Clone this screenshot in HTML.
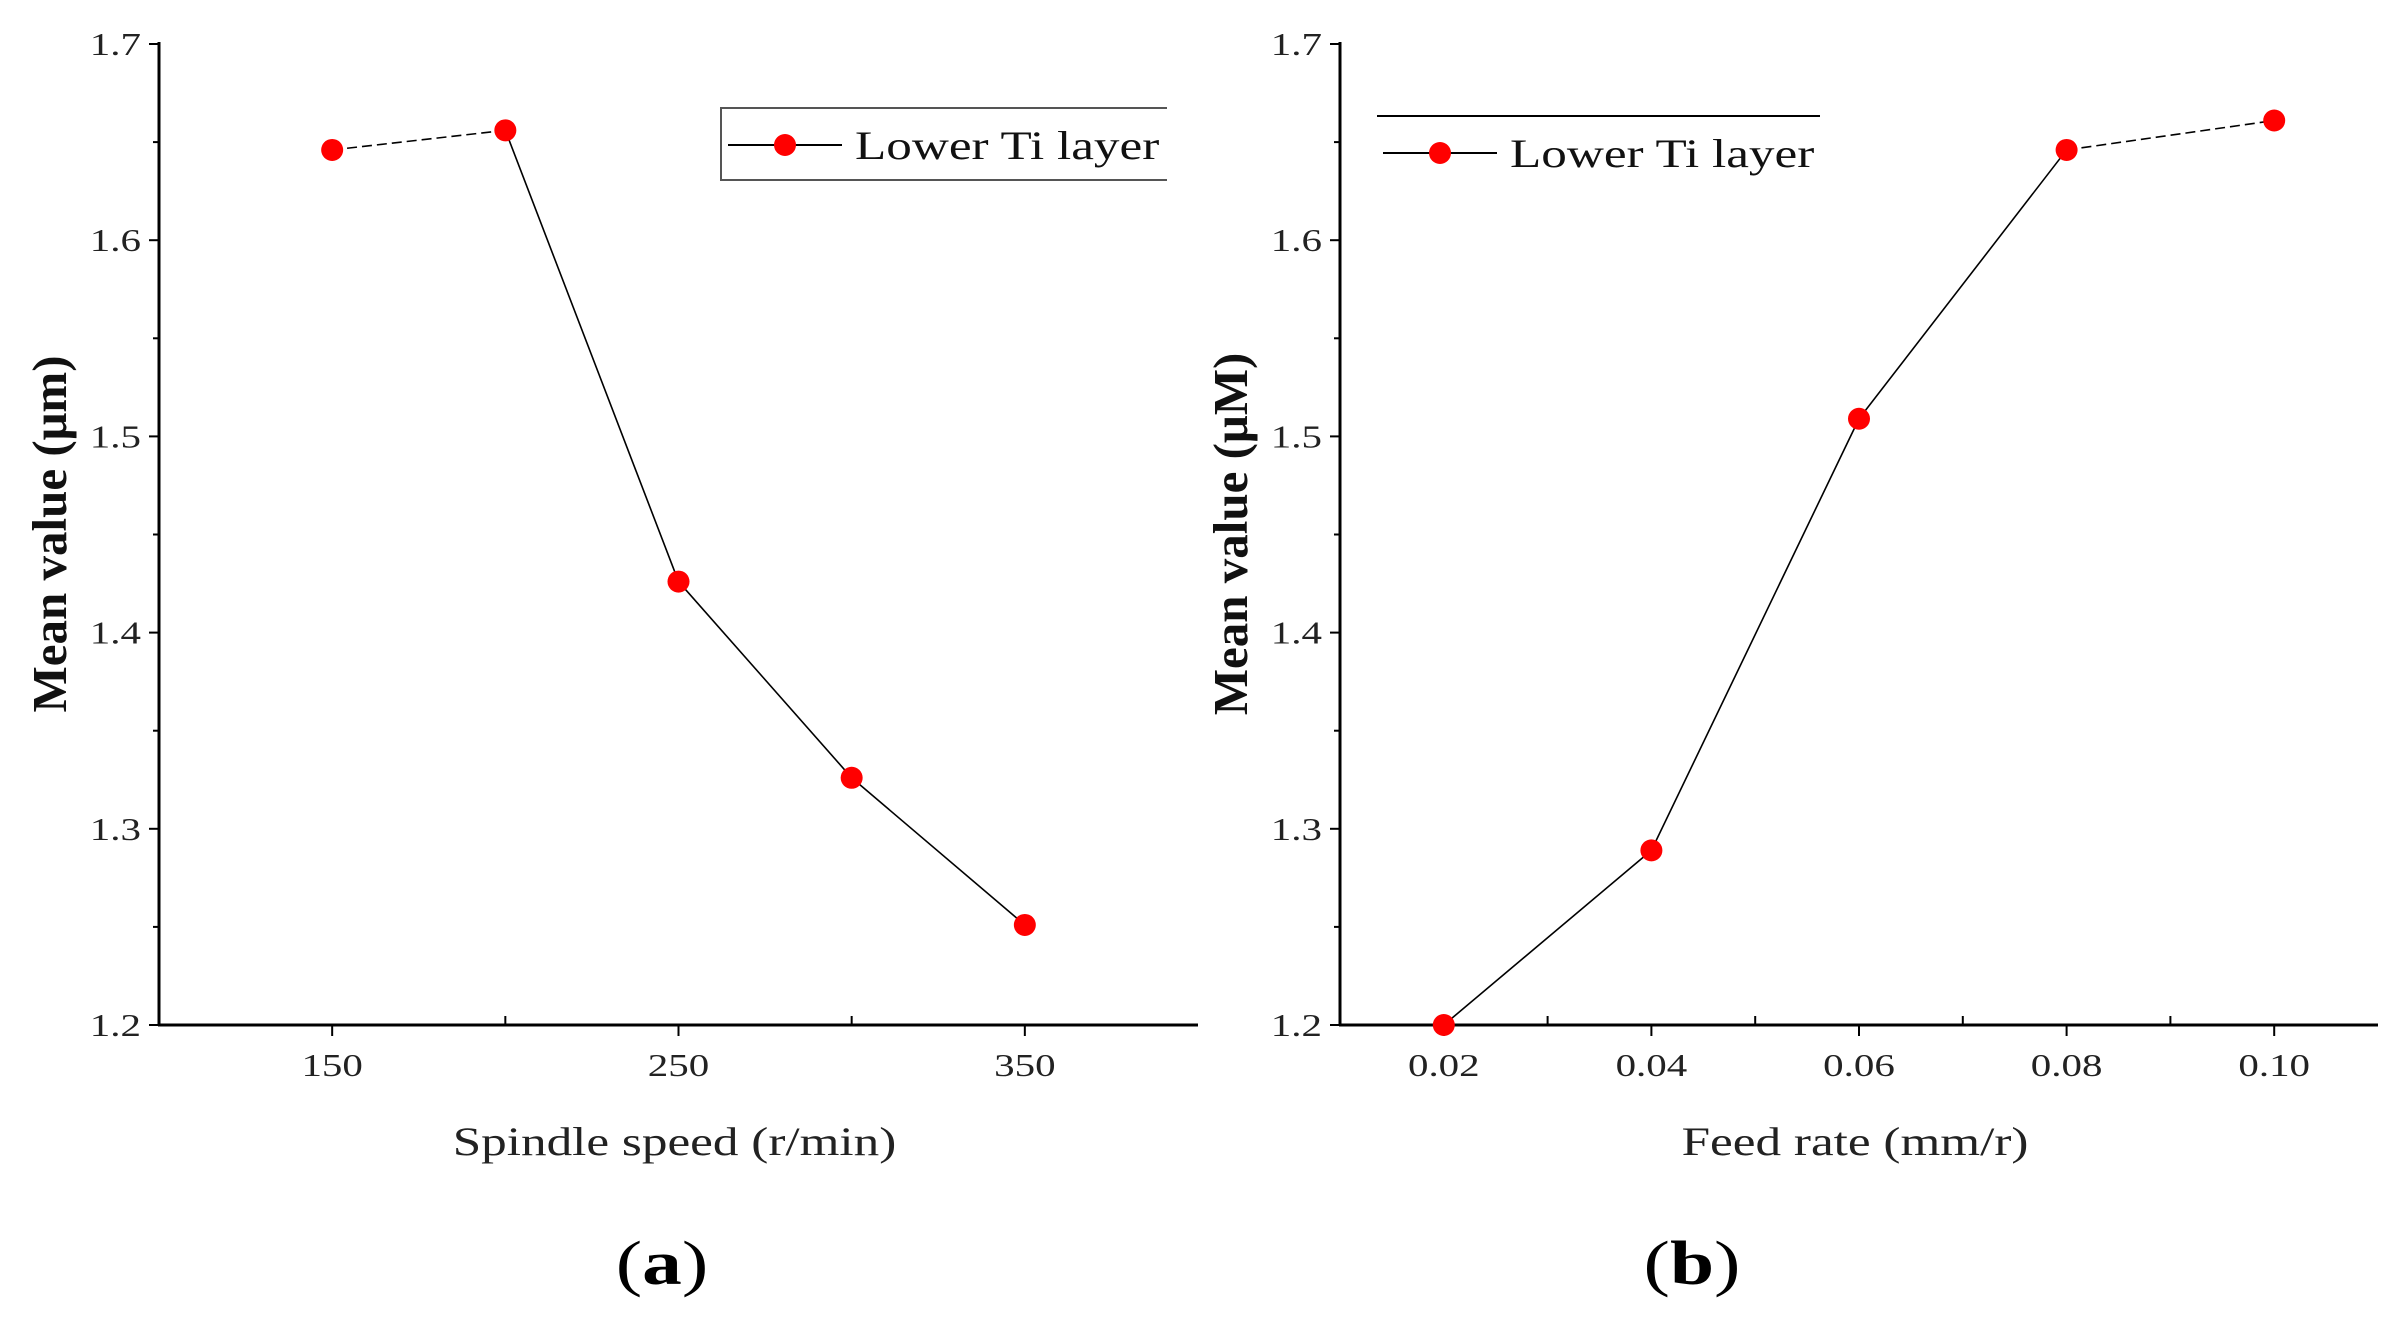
<!DOCTYPE html>
<html><head><meta charset="utf-8"><style>
html,body{margin:0;padding:0;background:#fff;}
svg{display:block;font-family:"Liberation Serif",serif;}
</style></head><body>
<svg id="fig" width="2400" height="1329" viewBox="0 0 2400 1329">
<g id="ga"></g>
<g id="gb"></g>
</svg>
<script>
const NS="http://www.w3.org/2000/svg";
const catsA=[150,200,250,300,350];
const valsA=[1.646,1.656,1.426,1.326,1.251];
const catsB=[0.02,0.04,0.06,0.08,0.10];
const valsB=[1.200,1.289,1.509,1.646,1.661];
const yTicks=[1.2,1.3,1.4,1.5,1.6,1.7];
const xTickLabelsA=["150","250","350"];
const xTickLabelsB=["0.02","0.04","0.06","0.08","0.10"];
const SX=1.28;

function mk(p,tag,attrs,txt){const e=document.createElementNS(NS,tag);for(const k in attrs)e.setAttribute(k,attrs[k]);if(txt!==undefined)e.textContent=txt;p.appendChild(e);return e;}
function txt(p,x,y,attrs,t){const a=Object.assign({x:0,y:0,transform:`translate(${x},${y}) scale(${SX},1)`},attrs);return mk(p,'text',a,t);}

const Y0=1025,Y1=44;
function drawChart(g,o){
  const y=v=>Y0-(v-1.2)/(0.5)*(Y0-Y1);
  const x=v=>o.x0+(v-o.xmin)/(o.xmax-o.xmin)*(o.x1-o.x0);
  let e=mk(g,'line',{x1:o.x0,y1:Y1-2,x2:o.x0,y2:Y0+1,stroke:'#000','stroke-width':3});
  
  e=mk(g,'line',{x1:o.x0-1,y1:Y0,x2:o.x1,y2:Y0,stroke:'#000','stroke-width':3});
  
  for(let i=0;i<yTicks.length;i++){
    const v=yTicks[i];
    mk(g,'line',{x1:o.x0-10,y1:y(v),x2:o.x0,y2:y(v),stroke:'#000','stroke-width':2});
    if(i<yTicks.length-1)mk(g,'line',{x1:o.x0-6,y1:y(v+0.05),x2:o.x0,y2:y(v+0.05),stroke:'#000','stroke-width':2});
    e=txt(g,o.x0-18,y(v)+11,{'text-anchor':'end','font-size':32,fill:'#222'},v.toFixed(1));
    
  }
  for(const t of o.majors){mk(g,'line',{x1:x(t),y1:Y0,x2:x(t),y2:Y0+11,stroke:'#000','stroke-width':2});}
  for(const t of o.minors){mk(g,'line',{x1:x(t),y1:Y0-9,x2:x(t),y2:Y0,stroke:'#000','stroke-width':2});}
  for(let i=0;i<o.labelVals.length;i++){
    e=txt(g,x(o.labelVals[i]),1076,{'text-anchor':'middle','font-size':32,fill:'#222'},o.labels[i]);
    
  }
  for(let i=0;i<o.cats.length-1;i++){
    e=mk(g,'line',{x1:x(o.cats[i]),y1:y(o.vals[i]),x2:x(o.cats[i+1]),y2:y(o.vals[i+1]),stroke:'#000','stroke-width':1.6});
    if(i===o.dashIdx)e.setAttribute('stroke-dasharray','10,5');
    
  }
  for(let i=0;i<o.cats.length;i++){
    e=mk(g,'circle',{cx:x(o.cats[i]),cy:y(o.vals[i]),r:11,fill:'#f00'});
    
  }
  e=txt(g,(o.x0+o.x1)/2-4,1155,{'text-anchor':'middle','font-size':40,fill:'#222'},o.xTitle);
  
  e=mk(g,'text',{x:0,y:0,'text-anchor':'middle','font-size':49,'font-weight':'bold',fill:'#111',transform:`translate(${o.yTitleX},534) rotate(-90)`},o.yTitle);
  
  e=txt(g,o.panelX,1284,{'text-anchor':'middle','font-size':62,fill:'#000'});
  
  mk(e,'tspan',{},'(');mk(e,'tspan',{'font-weight':'bold'},o.panel);mk(e,'tspan',{},')');
  const L=o.legend;
  const lg=mk(g,'g',{});
  
  if(L.box){
    mk(lg,'path',{d:`M${L.bx1},${L.by0} L${L.bx0},${L.by0} L${L.bx0},${L.by1} L${L.bx1},${L.by1}`,fill:'none',stroke:'#555','stroke-width':2});
  }else{
    mk(lg,'line',{x1:L.bx0,y1:L.by0,x2:L.bx1,y2:L.by0,stroke:'#000','stroke-width':2});
  }
  mk(lg,'line',{x1:L.lx0,y1:L.ly,x2:L.lx1,y2:L.ly,stroke:'#000','stroke-width':2});
  mk(lg,'circle',{cx:(L.lx0+L.lx1)/2,cy:L.ly,r:11,fill:'#f00'});
  e=txt(lg,L.tx,L.ly+14,{'font-size':40,fill:'#111'},'Lower Ti layer');
  
}

drawChart(document.getElementById('ga'),{
  x0:159,x1:1198,xmin:100,xmax:400,cats:catsA,vals:valsA,dashIdx:0,
  majors:[150,250,350],minors:[200,300],labelVals:[150,250,350],labels:xTickLabelsA,
  xTitle:'Spindle speed (r/min)',yTitle:'Mean value (μm)',yTitleX:66,panel:'a',panelX:662,
  legend:{box:true,bx0:721,bx1:1167,by0:108,by1:180,lx0:728,lx1:842,ly:145,tx:855}
});
drawChart(document.getElementById('gb'),{
  x0:1340,x1:2378,xmin:0.01,xmax:0.11,cats:catsB,vals:valsB,dashIdx:3,
  majors:[0.02,0.04,0.06,0.08,0.10],minors:[0.03,0.05,0.07,0.09],labelVals:[0.02,0.04,0.06,0.08,0.10],labels:xTickLabelsB,
  xTitle:'Feed rate (mm/r)',yTitle:'Mean value (μM)',yTitleX:1247,panel:'b',panelX:1692,
  legend:{box:false,bx0:1377,bx1:1820,by0:116,lx0:1383,lx1:1497,ly:153,tx:1510}
});
</script>
</body></html>
